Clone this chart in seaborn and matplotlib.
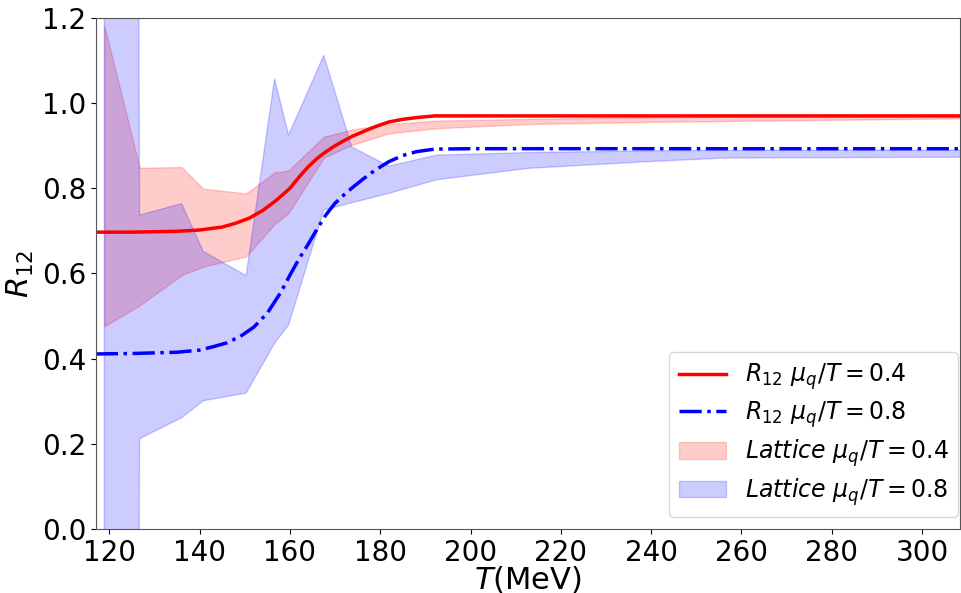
import numpy as np
import pandas as pd
import matplotlib
matplotlib.use("Agg")
import matplotlib.pyplot as plt
import seaborn as sns

# Model curves
T_model_04 = [117, 125, 135, 140, 145, 148, 151, 154, 157, 160, 162, 164, 166, 168, 170,
              172, 174, 176, 178, 180, 182, 185, 188, 192, 200, 250, 308.5]
R12_04 = [0.697, 0.697, 0.699, 0.702, 0.709, 0.718, 0.730, 0.748, 0.772, 0.800, 0.826,
          0.850, 0.870, 0.886, 0.900, 0.912, 0.923, 0.932, 0.941, 0.949, 0.956, 0.962,
          0.966, 0.970, 0.970, 0.970, 0.970]

T_model_08 = [117, 125, 135, 140, 143, 146, 149, 152, 155, 158, 160, 162, 164, 166, 168,
              170, 172, 174, 176, 178, 180, 182, 185, 188, 192, 200, 250, 308.5]
R12_08 = [0.411, 0.412, 0.415, 0.420, 0.428, 0.437, 0.452, 0.474, 0.507, 0.556, 0.596,
          0.634, 0.668, 0.704, 0.738, 0.765, 0.785, 0.803, 0.820, 0.836, 0.850, 0.863,
          0.877, 0.886, 0.892, 0.893, 0.893, 0.893]

# Lattice bands
T_lat = [118.9, 126.7, 136.0, 140.8, 150.3, 156.6, 159.7, 167.5, 173.7, 181.9, 192.5,
         213.0, 240.0, 256.0, 308.5]
lat04_hi = [1.182, 0.848, 0.850, 0.799, 0.788, 0.837, 0.842, 0.921, 0.938, 0.951, 0.959,
            0.963, 0.967, 0.968, 0.970]
lat04_lo = [0.476, 0.525, 0.596, 0.616, 0.640, 0.716, 0.742, 0.872, 0.902, 0.929, 0.941,
            0.951, 0.956, 0.958, 0.964]
lat08_hi = [25.0, 0.737, 0.764, 0.652, 0.595, 1.057, 0.925, 1.112, 0.897, 0.852, 0.878,
            0.884, 0.888, 0.889, 0.890]
lat08_lo = [-25.0, 0.212, 0.261, 0.301, 0.319, 0.436, 0.479, 0.749, 0.766, 0.788, 0.820,
            0.847, 0.863, 0.871, 0.873]

x_ticks = [120, 140, 160, 180, 200, 220, 240, 260, 280, 300]
y_ticks = [0.0, 0.2, 0.4, 0.6, 0.8, 1.0, 1.2]

fig = plt.figure(figsize=(9.61, 5.93), dpi=100)
ax = fig.add_axes([0.0999, 0.108, 0.899, 0.8617])

df04 = pd.DataFrame({"T": T_model_04, "R": R12_04})
df08 = pd.DataFrame({"T": T_model_08, "R": R12_08})
sns.lineplot(data=df04, x="T", y="R", ax=ax, color="red", linewidth=2.5,
             label=r"$R_{12}\ \mu_q/T=0.4$")
sns.lineplot(data=df08, x="T", y="R", ax=ax, color="blue", linewidth=2.5,
             linestyle="-.", label=r"$R_{12}\ \mu_q/T=0.8$")

ax.fill_between(T_lat, lat04_lo, lat04_hi, color="red", alpha=0.2,
                label=r"$Lattice\ \mu_q/T=0.4$")
ax.fill_between(T_lat, lat08_lo, lat08_hi, color="blue", alpha=0.2,
                label=r"$Lattice\ \mu_q/T=0.8$")

ax.set_xlim(117.05, 308.4)
ax.set_ylim(0.0, 1.2)
ax.set_xticks(x_ticks)
ax.set_yticks(y_ticks)
ax.tick_params(labelsize=20)
ax.set_xlabel(r"$T$(MeV)", fontsize=22, labelpad=-2)
ax.set_ylabel(r"$R_{12}$", fontsize=22)
for s in ax.spines.values():
    s.set_color("#555555")
ax.legend(loc="lower right", fontsize=17, bbox_to_anchor=(0.9977, 0.0235),
          borderaxespad=0.0, labelspacing=0.3)

fig.savefig("out.png", dpi=100)
